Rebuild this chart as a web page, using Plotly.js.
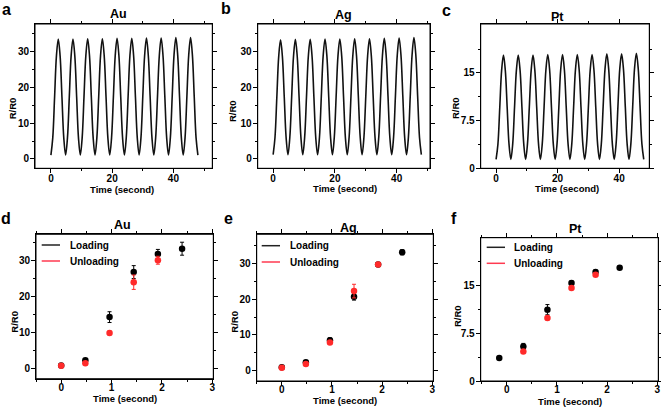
<!DOCTYPE html>
<html>
<head>
<meta charset="utf-8">
<script src="https://cdn.plot.ly/plotly-3.0.1.min.js"></script>
<style>html,body{margin:0;padding:0;background:#fff;}#chart{width:661px;height:407px;}</style>
</head>
<body>
<div id="chart"></div>
<script>
// ---- Data ----
const timeSec = [0,0.6,1.2,1.8,2.4,3,3.6,4.2,4.8,5.4,6,6.6,7.2,7.8,8.4,9,9.6,10.2,10.8,11.4,12,12.6,13.2,13.8,14.4,15,15.6,16.2,16.8,17.4,18,18.6,19.2,19.8,20.4,21,21.6,22.2,22.8,23.4,24,24.6,25.2,25.8,26.4,27,27.6,28.2,28.8,29.4,30,30.6,31.2,31.8,32.4,33,33.6,34.2,34.8,35.4,36,36.6,37.2,37.8,38.4,39,39.6,40.2,40.8,41.4,42,42.6,43.2,43.8,44.4,45,45.6,46.2,46.8,47.4,48];
const cycleAu = [1.1,5.9,17.3,28.8,33.5,28.8,17.3,5.9, 1.1,5.9,17.3,28.8,33.5,28.8,17.3,5.9, 1.1,5.9,17.3,28.8,33.6,28.8,17.3,5.9, 1.1,5.9,17.3,28.8,33.6,28.8,17.3,5.9, 1.1,5.9,17.3,28.9,33.7,28.9,17.3,5.9, 1.1,5.9,17.3,28.9,33.7,28.9,17.3,5.9, 1.1,5.9,17.4,28.9,33.8,28.9,17.4,5.9, 1.1,5.9,17.4,28.9,33.8,28.9,17.4,5.9, 1.1,5.9,17.4,29.0,33.9,29.0,17.4,5.9, 1.1,5.9,17.4,29.0,33.9,29.0,17.4,5.9, 1.1];
const cycleAg = [1.2,6.0,17.3,28.6,33.3,28.6,17.3,6.0, 1.2,6.0,17.3,28.7,33.4,28.7,17.3,6.0, 1.2,6.0,17.3,28.7,33.4,28.7,17.3,6.0, 1.2,6.0,17.4,28.8,33.5,28.8,17.4,6.0, 1.2,6.0,17.4,28.8,33.5,28.8,17.4,6.0, 1.2,6.0,17.4,28.8,33.6,28.8,17.4,6.0, 1.2,6.0,17.4,28.8,33.6,28.8,17.4,6.0, 1.2,6.0,17.5,28.9,33.7,28.9,17.5,6.0, 1.2,6.0,17.5,29.0,33.8,29.0,17.5,6.0, 1.2,6.0,17.5,29.1,33.9,29.1,17.5,6.0, 1.2];
const cyclePt = [1.4,3.8,9.6,15.4,17.8,15.4,9.6,3.8, 1.4,3.8,9.6,15.4,17.8,15.4,9.6,3.8, 1.4,3.8,9.6,15.4,17.8,15.4,9.6,3.8, 1.4,3.8,9.6,15.5,17.9,15.5,9.6,3.8, 1.4,3.8,9.6,15.5,17.9,15.5,9.6,3.8, 1.4,3.8,9.6,15.5,17.9,15.5,9.6,3.8, 1.4,3.8,9.6,15.5,17.9,15.5,9.6,3.8, 1.4,3.8,9.7,15.6,18.0,15.6,9.7,3.8, 1.4,3.8,9.7,15.6,18.0,15.6,9.7,3.8, 1.4,3.8,9.7,15.7,18.1,15.7,9.7,3.8, 1.4];

const stepTime = [0, 0.48, 0.96, 1.44, 1.92, 2.4];
const auLoad = [1.0, 2.4, 14.4, 26.9, 31.9, 33.4];
const auLoadErr = [0.2, 0.4, 1.5, 1.8, 1.3, 1.8];
const auUnload = [0.9, 1.6, 10.0, 24.1, 30.2];
const auUnloadErr = [0.2, 0.3, 0.5, 2.0, 1.1];

const agLoad = [1.0, 2.4, 8.5, 20.6, 29.6, 33.0];
const agLoadErr = [0.2, 0.4, 0.7, 0.9, 0.4, 0.7];
const agUnload = [0.9, 1.9, 7.9, 22.2, 29.6];
const agUnloadErr = [0.3, 0.4, 0.5, 1.9, 0.4];

const ptTime = [-0.15, 0.33, 0.81, 1.29, 1.77, 2.25];
const ptLoad = [3.6, 5.4, 11.2, 15.4, 17.1, 17.8];
const ptLoadErr = [0.2, 0.5, 0.8, 0.3, 0.3, 0.2];
const ptUnloadTime = [0.33, 0.81, 1.29, 1.77];
const ptUnload = [4.65, 9.9, 14.6, 16.7];
const ptUnloadErr = [0.2, 0.3, 0.2, 0.2];

const panelLetters = ['a','b','c','d','e','f'];
const metals = ['Au','Ag','Pt','Au','Ag','Pt'];
const seriesNames = ['Loading','Unloading'];
const yTickBig = [0, 10, 20, 30];
const yTickPt = [0, 7.5, 15];
const yTickPtLabels = ['0', '7.5', '15'];
const yMinorPt = [3.75, 11.25, 18.75];
const xTickStep = [0, 1, 2, 3];

// ---- Styling ----
const W = 661, H = 407;
const fx = p => p / W;
const fy = p => 1 - p / H;
const BLACK = '#000000';
const RED = '#ff2a2a';
const SANS = '"Liberation Sans", Arial, Helvetica, sans-serif';

const traces = [];
function curve(y, ax) {
  traces.push({x: timeSec, y: y, xaxis: 'x' + ax, yaxis: 'y' + ax, type: 'scatter', mode: 'lines',
    line: {color: '#111', width: 1.6, shape: 'spline', smoothing: 1}, showlegend: false, hoverinfo: 'skip'});
}
curve(cycleAu, '');
curve(cycleAg, '2');
curve(cyclePt, '3');

function pts(x, y, err, color, ax, name) {
  traces.push({x: x, y: y, xaxis: 'x' + ax, yaxis: 'y' + ax, type: 'scatter', mode: 'markers', name: name,
    marker: {color: color, size: 6.5, line: {width: 0}},
    error_y: {type: 'data', array: err, visible: true, color: color, thickness: 1, width: 2},
    showlegend: false});
}
pts(stepTime, auLoad, auLoadErr, BLACK, '4', seriesNames[0]);
pts(stepTime.slice(0, 5), auUnload, auUnloadErr, RED, '4', seriesNames[1]);
pts(stepTime, agLoad, agLoadErr, BLACK, '5', seriesNames[0]);
pts(stepTime.slice(0, 5), agUnload, agUnloadErr, RED, '5', seriesNames[1]);
pts(ptTime, ptLoad, ptLoadErr, BLACK, '6', seriesNames[0]);
pts(ptUnloadTime, ptUnload, ptUnloadErr, RED, '6', seriesNames[1]);

function axis(extra, standoff) {
  return Object.assign({
    showline: true, mirror: 'all', linecolor: BLACK, linewidth: 1,
    ticks: 'outside', ticklen: 4, tickwidth: 1, tickcolor: BLACK,
    showgrid: false, zeroline: false, automargin: false, fixedrange: true,
    ticklabeloverflow: 'allow',
    ticklabelstandoff: standoff || -1,
    tickfont: {family: SANS, size: 10, color: BLACK, weight: 'bold'}
  }, extra);
}
function mn(d) { return {dtick: d, tick0: 0, ticks: 'outside', ticklen: 2, tickwidth: 1, tickcolor: BLACK, showgrid: false}; }
const mnPt = {tickmode: 'array', tickvals: yMinorPt, ticks: 'outside', ticklen: 2, tickwidth: 1, tickcolor: BLACK, showgrid: false};

// plot boxes in pixels: [left, right, top, bottom]
const boxes = [[35, 212.3, 24, 168.3], [257.7, 430, 24, 168.3], [480.7, 649.3, 24, 168.3],
               [36, 213.3, 234.3, 378.7], [256.7, 433.3, 234.3, 381], [480.7, 658.3, 237.7, 381]];
const dx = i => [fx(boxes[i][0]), fx(boxes[i][1])];
const dy = i => [fy(boxes[i][3]), fy(boxes[i][2])];

const layout = {
  width: W, height: H, margin: {l: 0, r: 0, t: 0, b: 0},
  paper_bgcolor: '#fff', plot_bgcolor: '#fff', showlegend: false,
  xaxis:  axis({domain: dx(0), range: [-5.2, 52.7], dtick: 20, tick0: 0, minor: mn(10), anchor: 'y'}, -3),
  yaxis:  axis({domain: dy(0), range: [-2.6, 37.7], tickmode: 'array', tickvals: yTickBig, minor: mn(5), anchor: 'x'}),
  xaxis2: axis({domain: dx(1), range: [-5.0, 50.8], dtick: 20, tick0: 0, minor: mn(10), anchor: 'y2'}, -3),
  yaxis2: axis({domain: dy(1), range: [-2.6, 37.7], tickmode: 'array', tickvals: yTickBig, minor: mn(5), anchor: 'x2'}),
  xaxis3: axis({domain: dx(2), range: [-5.0, 49.8], dtick: 20, tick0: 0, minor: mn(10), anchor: 'y3'}, -3),
  yaxis3: axis({domain: dy(2), range: [0, 22.7], tickmode: 'array', tickvals: yTickPt, ticktext: yTickPtLabels, minor: mnPt, anchor: 'x3'}),
  xaxis4: axis({domain: dx(3), range: [-0.5, 3.02], tickmode: 'array', tickvals: xTickStep, minor: mn(0.5), anchor: 'y4'}, -5),
  yaxis4: axis({domain: dy(3), range: [-2.7, 37.4], tickmode: 'array', tickvals: yTickBig, minor: mn(5), anchor: 'x4'}),
  xaxis5: axis({domain: dx(4), range: [-0.5, 3.02], tickmode: 'array', tickvals: xTickStep, minor: mn(0.5), anchor: 'y5'}, -5),
  yaxis5: axis({domain: dy(4), range: [-2.8, 38], tickmode: 'array', tickvals: yTickBig, minor: mn(5), anchor: 'x5'}),
  xaxis6: axis({domain: dx(5), range: [-0.52, 3.02], tickmode: 'array', tickvals: xTickStep, minor: mn(0.5), anchor: 'y6'}, -5),
  yaxis6: axis({domain: dy(5), range: [0, 22.5], tickmode: 'array', tickvals: yTickPt, ticktext: yTickPtLabels, minor: mnPt, anchor: 'x6'}),
  annotations: [],
  shapes: []
};

// frame boxes around each plot area (paper coordinates)
boxes.forEach((b, i) => {
  layout.shapes.push({type: 'rect', xref: 'paper', yref: 'paper', x0: dx(i)[0], x1: dx(i)[1], y0: dy(i)[0], y1: dy(i)[1],
    line: {color: BLACK, width: 1}, layer: 'above'});
});

function txt(t, x, y, font, extra) {
  layout.annotations.push(Object.assign({text: t, x: fx(x), y: fy(y), xref: 'paper', yref: 'paper',
    xanchor: 'center', yanchor: 'middle', showarrow: false, font: font}, extra || {}));
}
const letterFont = {family: SANS, size: 16, color: BLACK, weight: 'bold'};
const titleFont = {family: SANS, size: 12.5, color: BLACK, weight: 'bold'};
const axFont = {family: SANS, size: 9.5, color: BLACK, weight: 'bold'};
const legFont = {family: SANS, size: 10, color: BLACK, weight: 'bold'};

const letterPos = [[6, 9], [226, 8], [447, 11], [6, 219], [228, 219], [454, 219]];
const titlePos = [[118, 14.5], [343.5, 15], [557, 16.5], [122.5, 225], [348, 228], [575, 229]];
const xTitlePos = [[122, 189], [345, 188.5], [567, 188], [125, 398.5], [345, 400], [570, 401.5]];
const yTitlePos = [[13.3, 108], [233, 111], [456, 108], [15, 321.7], [235, 321.7], [457, 316]];
for (let i = 0; i < 6; i++) {
  txt(panelLetters[i], letterPos[i][0], letterPos[i][1], letterFont);
  txt(metals[i], titlePos[i][0], titlePos[i][1], titleFont);
  txt('Time (second)', xTitlePos[i][0], xTitlePos[i][1], axFont);
  txt('R/R0', yTitlePos[i][0], yTitlePos[i][1], axFont, {textangle: -90});
}
const legPos = [[41.7, 60, 68, 245, 261], [261.7, 280, 288.3, 245.7, 262], [486.7, 505, 511.7, 247.3, 263.3]];
const legColors = ['#222', '#ff3a50'];
legPos.forEach(p => {
  [0, 1].forEach(k => {
    const yy = p[3 + k];
    layout.shapes.push({type: 'line', xref: 'paper', yref: 'paper', x0: fx(p[0]), x1: fx(p[1]), y0: fy(yy), y1: fy(yy),
      line: {color: legColors[k], width: 1.5}});
    txt(seriesNames[k], p[2], yy, legFont, {xanchor: 'left'});
  });
});

Plotly.newPlot('chart', traces, layout, {staticPlot: true, displayModeBar: false});
</script>
</body>
</html>
